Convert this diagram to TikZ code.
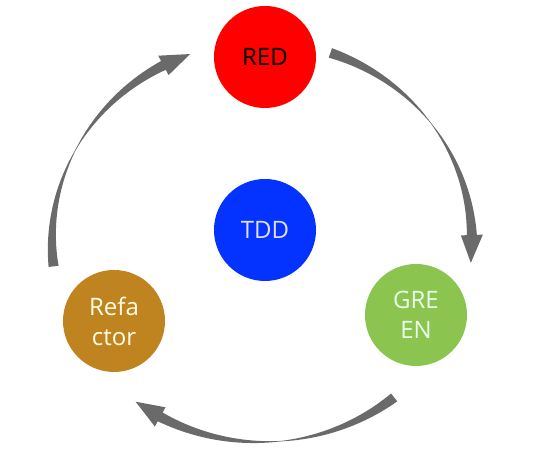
\documentclass[tikz,border=0pt]{standalone}
\usepackage{fontspec}
\setmainfont{Open Sans}
\definecolor{tddred}{HTML}{FF0000}
\definecolor{tddblue}{HTML}{0433FF}
\definecolor{tddgreen}{HTML}{8BC550}
\definecolor{tddgold}{HTML}{BF841F}
\definecolor{cyclegray}{HTML}{6A6A6A}

\begin{document}
\begin{tikzpicture}[x=0.5pt,y=0.5pt,
    phase/.style={circle,minimum size=51pt,inner sep=0pt,align=center,
      font=\fontsize{12}{15}\selectfont},
    cyclearrow/.style={fill=cyclegray},
    declare function={hw(\a,\s,\e)=0.2+4.8*abs(1-2*(\s-\a)/(\s-\e));}]
  \useasboundingbox (0,0) rectangle (548,464);
  \def\cx{262}\def\cy{222}
  \node[phase,fill=tddred] (red) at (265,407) {RED};
  \node[phase,fill=tddblue,text=white!88!blue] (tdd) at (265,234) {TDD};
  \node[phase,fill=tddgreen,text=white!92!green] (green) at (416,149) {GRE\\EN};
  \node[phase,fill=tddgold,text=white!90!yellow] (refactor) at (114,143) {Refa\\ctor};
  % tapered arrows round the cycle: tail / head base / tip angles
  \foreach \ta/\tb/\tp in {71/2/-6, -51/-119/-127, 187/118/110}{
    \fill[cyclearrow]
      plot[domain=\ta:\tb,samples=50]
        ({\cx+(210+hw(\x,\ta,\tb))*cos(\x)},{\cy+(200+hw(\x,\ta,\tb))*sin(\x)})
      -- ({\cx+221*cos(\tb)},{\cy+211*sin(\tb)})
      -- ({\cx+210*cos(\tp)},{\cy+200*sin(\tp)})
      -- ({\cx+199*cos(\tb)},{\cy+189*sin(\tb)})
      -- plot[domain=\tb:\ta,samples=50]
        ({\cx+(210-hw(\x,\ta,\tb))*cos(\x)},{\cy+(200-hw(\x,\ta,\tb))*sin(\x)})
      -- cycle;
  }
\end{tikzpicture}
\end{document}
